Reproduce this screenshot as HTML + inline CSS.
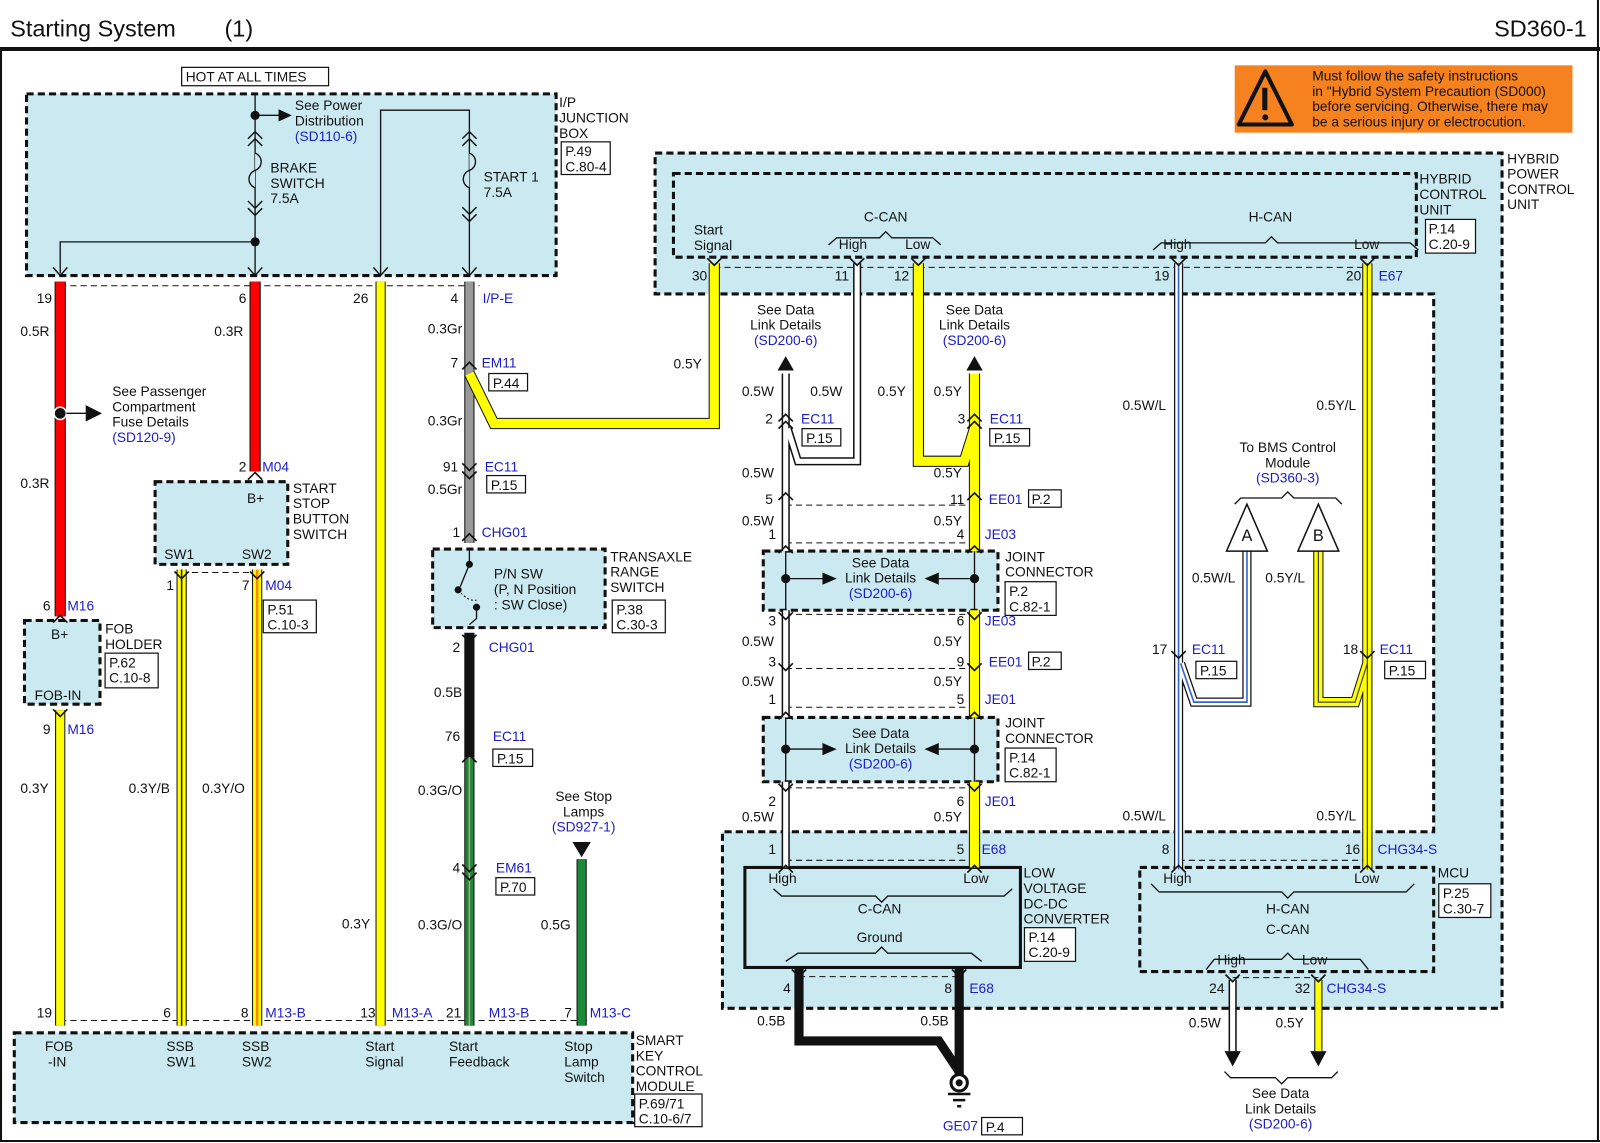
<!DOCTYPE html>
<html><head><meta charset="utf-8"><style>
html,body{margin:0;padding:0;background:#fff}
svg{display:block}
text{font-family:"Liberation Sans",Arial,sans-serif;font-size:13.5px;fill:#111}
.b{fill:#1c1cc8}
.e{text-anchor:end}
.d{fill:none;stroke:#111;stroke-width:3;stroke-dasharray:7 4}
.dl{fill:none;stroke:#111;stroke-width:1;stroke-dasharray:6 4}
.l{fill:none;stroke:#111;stroke-width:1.3}
.bx{fill:#fff;stroke:#111;stroke-width:1.2}
.fl{fill:#cbe9f1}
.ch{fill:none;stroke:#111;stroke-width:1.4}
</style></head><body>
<svg width="1600" height="1143" viewBox="0 0 1568 1120" preserveAspectRatio="none" xmlns="http://www.w3.org/2000/svg">
<rect width="1568" height="1120" fill="#fff"/>
<!-- header -->
<text x="10" y="36" style="font-size:23px">Starting System</text>
<text x="220" y="36" style="font-size:23px">(1)</text>
<text x="1555" y="36" text-anchor="end" style="font-size:23px">SD360-1</text>
<line x1="0" y1="48" x2="1568" y2="48" stroke="#111" stroke-width="4"/>
<line x1="1" y1="48" x2="1" y2="1118" stroke="#111" stroke-width="2"/>
<line x1="1566" y1="0" x2="1566" y2="1118" stroke="#111" stroke-width="2"/>
<line x1="0" y1="1118" x2="1568" y2="1118" stroke="#111" stroke-width="2"/>

<!-- fills -->
<rect x="26" y="92" width="519" height="178" class="fl"/>
<rect x="152" y="472" width="130" height="81" class="fl"/>
<rect x="24" y="608" width="74" height="82" class="fl"/>
<rect x="424" y="538" width="169" height="77" class="fl"/>
<rect x="14" y="1012" width="606" height="88" class="fl"/>
<path d="M642 150H1472V988H708V815H1405V288H642Z" class="fl"/>
<rect x="748" y="540" width="230" height="58" class="fl"/>
<rect x="748" y="703" width="230" height="63" class="fl"/>
<!-- dashed boxes -->
<rect x="26" y="92" width="519" height="178" class="d"/>
<rect x="152" y="472" width="130" height="81" class="d"/>
<rect x="24" y="608" width="74" height="82" class="d"/>
<rect x="424" y="538" width="169" height="77" class="d"/>
<rect x="14" y="1012" width="606" height="88" class="d"/>
<path d="M642 150H1472V988H708V815H1405V288H642Z" class="d"/>
<rect x="660" y="170" width="728" height="82" class="d"/>
<rect x="748" y="540" width="230" height="58" class="d"/>
<rect x="748" y="703" width="230" height="63" class="d"/>
<rect x="1117" y="850" width="288" height="102" class="d"/>
<rect x="730" y="850" width="270" height="98" fill="#cbe9f1" stroke="#111" stroke-width="3"/>

<!-- thin connector dashed lines -->
<line x1="59" y1="280" x2="470" y2="280" class="dl"/>
<line x1="178" y1="561" x2="252" y2="561" class="dl"/>
<line x1="59" y1="1000" x2="575" y2="1000" class="dl"/>
<line x1="700" y1="262" x2="1340" y2="262" class="dl"/>
<line x1="770" y1="495" x2="955" y2="495" class="dl"/>
<line x1="770" y1="532" x2="955" y2="532" class="dl"/>
<line x1="770" y1="602" x2="955" y2="602" class="dl"/>
<line x1="770" y1="655" x2="955" y2="655" class="dl"/>
<line x1="770" y1="693" x2="955" y2="693" class="dl"/>
<line x1="770" y1="772" x2="955" y2="772" class="dl"/>
<line x1="770" y1="843" x2="955" y2="843" class="dl"/>
<line x1="1155" y1="843" x2="1340" y2="843" class="dl"/>
<line x1="783" y1="957" x2="940" y2="957" class="dl"/>
<line x1="1208" y1="958" x2="1292" y2="958" class="dl"/>

<!-- IP junction box internals -->
<path d="M250 92V270M250 237H59V268M373 270V108H460V270" class="l"/>
<circle cx="250" cy="113" r="4.5" fill="#111"/><circle cx="250" cy="237" r="4.5" fill="#111"/>
<path d="M250 113H275" class="l"/><path d="M273 107L286 113L273 119Z" fill="#111"/>
<path d="M250 150c8 3 8 14 0 17c-8 3-8 14 0 17" fill="#cbe9f1" stroke="#111" stroke-width="1.3"/>
<path d="M460 150c8 3 8 14 0 17c-8 3-8 14 0 17" fill="#cbe9f1" stroke="#111" stroke-width="1.3"/>
<g class="ch"><path d="M243 136l7-7 7 7M243 143l7-7 7 7M243 197l7 7 7-7M243 204l7 7 7-7M453 136l7-7 7 7M453 143l7-7 7 7M453 203l7 7 7-7M453 210l7 7 7-7"/>
<path d="M52 262l7 8 7-8M243 262l7 8 7-8M366 262l7 8 7-8M453 262l7 8 7-8"/></g>
<rect x="178" y="66" width="144" height="18" class="bx"/><text x="182" y="80">HOT AT ALL TIMES</text>
<text x="289" y="108">See Power</text><text x="289" y="123">Distribution</text><text x="289" y="138" class="b">(SD110-6)</text>
<text x="265" y="169">BRAKE</text><text x="265" y="184">SWITCH</text><text x="265" y="199">7.5A</text>
<text x="474" y="178">START 1</text><text x="474" y="193">7.5A</text>
<text x="548" y="105">I/P</text><text x="548" y="120">JUNCTION</text><text x="548" y="135">BOX</text>
<rect x="550" y="139" width="48" height="32" class="bx"/><text x="554" y="153">P.49</text><text x="554" y="168">C.80-4</text>

<!-- wires -->
<g stroke-linecap="butt" fill="none">
<path d="M59 276V604M250 276V462" stroke="#111" stroke-width="11"/>
<path d="M59 276V604M250 276V462" stroke="#f00" stroke-width="9"/>
<path d="M59 696V1005M373 276V1005M178 558V1005M252 558V1005M570 842V1005" stroke="#111" stroke-width="10"/>
<path d="M59 696V1005M373 276V1005" stroke="#ff0" stroke-width="8"/>
<path d="M178 558V1005M252 558V1005" stroke="#ff0" stroke-width="8"/>
<path d="M178 558V1005" stroke="#222" stroke-width="1.5"/>
<path d="M252 558V1005" stroke="#f80" stroke-width="2.5"/>
<path d="M460 276V532" stroke="#111" stroke-width="10"/><path d="M460 276V532" stroke="#999" stroke-width="8"/>
<path d="M460 366L484 415H700V258" stroke="#111" stroke-width="11"/><path d="M460 366L484 415H700V258" stroke="#ff0" stroke-width="9"/>
<path d="M460 620V742" stroke="#111" stroke-width="10"/>
<path d="M460 742V1005" stroke="#111" stroke-width="10"/><path d="M460 742V1005" stroke="#1a8a3a" stroke-width="8"/><path d="M460 742V1005" stroke="#c97" stroke-width="1.5"/>
<path d="M570 842V1005" stroke="#1a8a3a" stroke-width="8"/>
<path d="M770 366V540M770 598V703M770 766V850M840 258V452H782L772 420" stroke="#111" stroke-width="8"/>
<path d="M770 366V540M770 598V703M770 766V850M840 258V452H782L772 420" stroke="#fff" stroke-width="5"/>
<path d="M770 540V598M770 703V766M955 540V598M955 703V766" stroke="#111" stroke-width="1.3"/>
<path d="M955 366V540M955 598V703M955 766V850M900 258V452H945L955 420" stroke="#111" stroke-width="11"/>
<path d="M955 366V540M955 598V703M955 766V850M900 258V452H945L955 420" stroke="#ff0" stroke-width="9"/>
<path d="M1155 258V852M1222 540V688H1170L1157 650" stroke="#111" stroke-width="9"/>
<path d="M1155 258V852M1222 540V688H1170L1157 650" stroke="#fff" stroke-width="6.5"/>
<path d="M1155 258V852M1222 540V688H1170L1157 650" stroke="#3366cc" stroke-width="1.6"/>
<path d="M1340 258V852M1292 540V688H1328L1340 650" stroke="#111" stroke-width="10"/>
<path d="M1340 258V852M1292 540V688H1328L1340 650" stroke="#ff0" stroke-width="8"/>
<path d="M1340 258V852M1292 540V688H1328L1340 650" stroke="#445" stroke-width="1.2"/>
<path d="M783 948V1020H920L940 1050M940 948V1055" stroke="#111" stroke-width="9"/>
<path d="M1208 960V1030M1292 960V1030" stroke="#111" stroke-width="8"/>
<path d="M1208 960V1030" stroke="#fff" stroke-width="5"/><path d="M1292 960V1030" stroke="#ff0" stroke-width="6"/>
</g>

<!-- connector chevrons on wires -->
<g stroke="#111" stroke-width="1.6" fill="none">
<path d="M52 610l7-7 7 7M243 470l7-7 7 7M171 560l7 7 7-7M245 560l7 7 7-7M52 695l7 7 7-7"/>
<path d="M453 362l7-7 7 7M453 454l7 7 7-7M453 462l7 7 7-7M453 530l7-7 7 7M453 622l7 7 7-7M453 747l7-7 7 7M453 847l7 7 7-7M453 855l7 7 7-7"/>
<path d="M763 413l7-7 7 7M763 420l7-7 7 7M948 413l7-7 7 7M948 420l7-7 7 7M763 490l7-7 7 7M948 490l7-7 7 7M763 542l7-7 7 7M948 542l7-7 7 7M763 600l7 7 7-7M948 600l7 7 7-7M763 650l7 7 7-7M948 650l7 7 7-7M763 705l7-7 7 7M948 705l7-7 7 7M763 768l7 7 7-7M948 768l7 7 7-7M763 855l7-7 7 7M948 855l7-7 7 7"/>
<path d="M1148 638l7 7 7-7M1333 638l7 7 7-7M1148 855l7-7 7 7M1333 855l7-7 7 7M693 253l7 7 7-7M833 253l7 7 7-7M893 253l7 7 7-7M1148 253l7 7 7-7M1333 253l7 7 7-7"/>
<path d="M776 950l7 7 7-7M933 950l7 7 7-7M1201 955l7 7 7-7M1285 955l7 7 7-7"/>
</g>

<!-- FOB / left labels -->
<circle cx="59" cy="405" r="6" fill="#111" stroke="#fff" stroke-width="1.5"/>
<path d="M65 405H86" class="l" stroke-width="2.5"/><path d="M84 397L100 405L84 413Z" fill="#111"/>
<text x="110" y="388">See Passenger</text><text x="110" y="403">Compartment</text><text x="110" y="418">Fuse Details</text><text x="110" y="433" class="b">(SD120-9)</text>
<text x="36" y="297">19</text><text x="20" y="329">0.5R</text><text x="20" y="478">0.3R</text>
<text x="234" y="297">6</text><text x="210" y="329">0.3R</text><text x="346" y="297">26</text>
<text x="234" y="462">2</text><text x="257" y="462" class="b">M04</text>
<text x="242" y="493">B+</text><text x="161" y="548">SW1</text><text x="237" y="548">SW2</text>
<text x="287" y="483">START</text><text x="287" y="498">STOP</text><text x="287" y="513">BUTTON</text><text x="287" y="528">SWITCH</text>
<text x="163" y="578">1</text><text x="237" y="578">7</text><text x="260" y="578" class="b">M04</text>
<rect x="258" y="588" width="52" height="32" class="bx"/><text x="262" y="602">P.51</text><text x="262" y="617">C.10-3</text>
<text x="42" y="598">6</text><text x="66" y="598" class="b">M16</text>
<text x="50" y="626">B+</text><text x="34" y="686">FOB-IN</text>
<text x="103" y="621">FOB</text><text x="103" y="636">HOLDER</text>
<rect x="103" y="640" width="52" height="34" class="bx"/><text x="107" y="654">P.62</text><text x="107" y="669">C.10-8</text>
<text x="42" y="719">9</text><text x="66" y="719" class="b">M16</text>
<text x="20" y="777">0.3Y</text><text x="126" y="777">0.3Y/B</text><text x="198" y="777">0.3Y/O</text><text x="335" y="910">0.3Y</text>
<text x="36" y="997">19</text><text x="160" y="997">6</text><text x="236" y="997">8</text><text x="260" y="997" class="b">M13-B</text>
<text x="353" y="997">13</text><text x="384" y="997" class="b">M13-A</text>
<text x="452" y="997" class="e">21</text><text x="479" y="997" class="b">M13-B</text>
<text x="553" y="997">7</text><text x="578" y="997" class="b">M13-C</text>
<text x="44" y="1030">FOB</text><text x="47" y="1045">-IN</text>
<text x="163" y="1030">SSB</text><text x="163" y="1045">SW1</text>
<text x="237" y="1030">SSB</text><text x="237" y="1045">SW2</text>
<text x="358" y="1030">Start</text><text x="358" y="1045">Signal</text>
<text x="440" y="1030">Start</text><text x="440" y="1045">Feedback</text>
<text x="553" y="1030">Stop</text><text x="553" y="1045">Lamp</text><text x="553" y="1060">Switch</text>
<text x="623" y="1024">SMART</text><text x="623" y="1039">KEY</text><text x="623" y="1054">CONTROL</text><text x="623" y="1069">MODULE</text>
<rect x="622" y="1072" width="66" height="32" class="bx"/><text x="626" y="1086">P.69/71</text><text x="626" y="1101">C.10-6/7</text>

<!-- center column labels -->
<text x="449" y="297" class="e">4</text><text x="473" y="297" class="b">I/P-E</text>
<text x="453" y="327" class="e">0.3Gr</text><text x="453" y="417" class="e">0.3Gr</text><text x="453" y="484" class="e">0.5Gr</text>
<text x="449" y="360" class="e">7</text><text x="472" y="360" class="b">EM11</text>
<rect x="479" y="366" width="38" height="17" class="bx"/><text x="483" y="380">P.44</text>
<text x="449" y="462" class="e">91</text><text x="475" y="462" class="b">EC11</text>
<rect x="477" y="466" width="38" height="17" class="bx"/><text x="481" y="480">P.15</text>
<text x="451" y="526" class="e">1</text><text x="472" y="526" class="b">CHG01</text>
<text x="660" y="361">0.5Y</text>
<!-- PN switch -->
<path d="M460 538V553M460 553L451 575" class="l"/>
<circle cx="460" cy="553" r="3.5" fill="#111"/><circle cx="449" cy="578" r="3.5" fill="#111"/><circle cx="467" cy="595" r="3.5" fill="#111"/>
<path d="M449 578q10 12 18 10" fill="none" stroke="#111" stroke-dasharray="2 2"/>
<path d="M467 595V606L460 612" class="l"/>
<text x="484" y="567">P/N SW</text><text x="484" y="582">(P, N Position</text><text x="484" y="597">: SW Close)</text>
<text x="598" y="550">TRANSAXLE</text><text x="598" y="565">RANGE</text><text x="598" y="580">SWITCH</text>
<rect x="600" y="588" width="52" height="32" class="bx"/><text x="604" y="602">P.38</text><text x="604" y="617">C.30-3</text>
<text x="451" y="639" class="e">2</text><text x="479" y="639" class="b">CHG01</text>
<text x="453" y="683" class="e">0.5B</text>
<text x="451" y="726" class="e">76</text><text x="483" y="726" class="b">EC11</text>
<rect x="483" y="734" width="39" height="17" class="bx"/><text x="487" y="748">P.15</text>
<text x="453" y="779" class="e">0.3G/O</text><text x="453" y="911" class="e">0.3G/O</text>
<text x="451" y="855" class="e">4</text><text x="486" y="855" class="b">EM61</text>
<rect x="486" y="860" width="38" height="17" class="bx"/><text x="490" y="874">P.70</text>
<text x="572" y="785" text-anchor="middle">See Stop</text><text x="572" y="800" text-anchor="middle">Lamps</text><text x="572" y="815" text-anchor="middle" class="b">(SD927-1)</text>
<path d="M561 825H579L570 840Z" fill="#111"/>
<text x="530" y="911">0.5G</text>

<!-- warning -->
<rect x="1210" y="64" width="331" height="66" fill="#f5821f"/>
<path d="M1240 70L1214 122H1266Z" fill="none" stroke="#111" stroke-width="4" stroke-linejoin="round"/>
<rect x="1237" y="86" width="5" height="22" fill="#111"/><circle cx="1240" cy="115" r="3" fill="#111"/>
<text x="1286" y="79">Must follow the safety instructions</text>
<text x="1286" y="94">in "Hybrid System Precaution (SD000)</text>
<text x="1286" y="109">before servicing. Otherwise, there may</text>
<text x="1286" y="124">be a serious injury or electrocution.</text>

<!-- HPCU labels -->
<text x="1477" y="160">HYBRID</text><text x="1477" y="175">POWER</text><text x="1477" y="190">CONTROL</text><text x="1477" y="205">UNIT</text>
<text x="1391" y="180">HYBRID</text><text x="1391" y="195">CONTROL</text><text x="1391" y="210">UNIT</text>
<rect x="1397" y="215" width="49" height="33" class="bx"/><text x="1400" y="229">P.14</text><text x="1400" y="244">C.20-9</text>
<text x="680" y="230">Start</text><text x="680" y="245">Signal</text>
<text x="868" y="217" text-anchor="middle">C-CAN</text>
<path d="M812 240l8-7H862l6-6 6 6H914l8 7" class="l"/>
<text x="822" y="244">High</text><text x="887" y="244">Low</text>
<text x="1245" y="217" text-anchor="middle">H-CAN</text>
<path d="M1130 245l8-7H1240l6-6 6 6H1382l8 7" class="l"/>
<text x="1140" y="244">High</text><text x="1327" y="244">Low</text>
<text x="678" y="275">30</text><text x="818" y="275">11</text><text x="876" y="275">12</text>
<text x="1131" y="275">19</text><text x="1319" y="275">20</text><text x="1351" y="275" class="b">E67</text>

<!-- C-CAN column labels -->
<text x="770" y="308" text-anchor="middle">See Data</text><text x="770" y="323" text-anchor="middle">Link Details</text><text x="770" y="338" text-anchor="middle" class="b">(SD200-6)</text>
<path d="M762 363H778L770 349Z" fill="#111"/>
<text x="955" y="308" text-anchor="middle">See Data</text><text x="955" y="323" text-anchor="middle">Link Details</text><text x="955" y="338" text-anchor="middle" class="b">(SD200-6)</text>
<path d="M947 363H963L955 349Z" fill="#111"/>
<text x="727" y="388">0.5W</text><text x="794" y="388">0.5W</text><text x="860" y="388">0.5Y</text><text x="915" y="388">0.5Y</text>
<text x="750" y="415">2</text><text x="785" y="415" class="b">EC11</text>
<rect x="786" y="420" width="38" height="17" class="bx"/><text x="790" y="434">P.15</text>
<text x="946" y="415" class="e">3</text><text x="970" y="415" class="b">EC11</text>
<rect x="970" y="420" width="39" height="17" class="bx"/><text x="974" y="434">P.15</text>
<text x="727" y="468">0.5W</text><text x="915" y="468">0.5Y</text>
<text x="750" y="494">5</text><text x="945" y="494" class="e">11</text><text x="969" y="494" class="b">EE01</text>
<rect x="1008" y="480" width="32" height="17" class="bx"/><text x="1011" y="494">P.2</text>
<text x="727" y="515">0.5W</text><text x="915" y="515">0.5Y</text>
<text x="753" y="528">1</text><text x="945" y="528" class="e">4</text><text x="965" y="528" class="b">JE03</text>
<circle cx="770" cy="567" r="4.5" fill="#111"/><circle cx="955" cy="567" r="4.5" fill="#111"/>
<path d="M770 567H808M955 567H918" class="l"/><path d="M806 561L820 567L806 573ZM920 561L906 567L920 573Z" fill="#111"/>
<text x="863" y="556" text-anchor="middle">See Data</text><text x="863" y="571" text-anchor="middle">Link Details</text><text x="863" y="586" text-anchor="middle" class="b">(SD200-6)</text>
<text x="985" y="550">JOINT</text><text x="985" y="565">CONNECTOR</text>
<rect x="985" y="570" width="50" height="33" class="bx"/><text x="989" y="584">P.2</text><text x="989" y="599">C.82-1</text>
<text x="753" y="613">3</text><text x="945" y="613" class="e">6</text><text x="965" y="613" class="b">JE03</text>
<text x="727" y="633">0.5W</text><text x="915" y="633">0.5Y</text>
<text x="753" y="653">3</text><text x="945" y="653" class="e">9</text><text x="969" y="653" class="b">EE01</text>
<rect x="1008" y="639" width="32" height="17" class="bx"/><text x="1011" y="653">P.2</text>
<text x="727" y="672">0.5W</text><text x="915" y="672">0.5Y</text>
<text x="753" y="690">1</text><text x="945" y="690" class="e">5</text><text x="965" y="690" class="b">JE01</text>
<circle cx="770" cy="734" r="4.5" fill="#111"/><circle cx="955" cy="734" r="4.5" fill="#111"/>
<path d="M770 734H808M955 734H918" class="l"/><path d="M806 728L820 734L806 740ZM920 728L906 734L920 740Z" fill="#111"/>
<text x="863" y="723" text-anchor="middle">See Data</text><text x="863" y="738" text-anchor="middle">Link Details</text><text x="863" y="753" text-anchor="middle" class="b">(SD200-6)</text>
<text x="985" y="713">JOINT</text><text x="985" y="728">CONNECTOR</text>
<rect x="985" y="733" width="50" height="33" class="bx"/><text x="989" y="747">P.14</text><text x="989" y="762">C.82-1</text>
<text x="753" y="790">2</text><text x="945" y="790" class="e">6</text><text x="965" y="790" class="b">JE01</text>
<text x="727" y="805">0.5W</text><text x="915" y="805">0.5Y</text>
<text x="753" y="837">1</text><text x="945" y="837" class="e">5</text><text x="962" y="837" class="b">E68</text>

<!-- LDC -->
<text x="753" y="865">High</text><text x="944" y="865">Low</text>
<path d="M758 871l8 7H858l6 6 6-6H984l8-7" class="l"/>
<text x="862" y="895" text-anchor="middle">C-CAN</text><text x="862" y="923" text-anchor="middle">Ground</text>
<path d="M770 942l12-8H858l6-6 6 6H952l10 8" class="l"/>
<text x="1003" y="860">LOW</text><text x="1003" y="875">VOLTAGE</text><text x="1003" y="890">DC-DC</text><text x="1003" y="905">CONVERTER</text>
<rect x="1004" y="909" width="50" height="33" class="bx"/><text x="1008" y="923">P.14</text><text x="1008" y="938">C.20-9</text>
<text x="775" y="973" class="e">4</text><text x="933" y="973" class="e">8</text><text x="950" y="973" class="b">E68</text>
<text x="742" y="1005">0.5B</text><text x="902" y="1005">0.5B</text>
<circle cx="940" cy="1061" r="8" fill="#fff" stroke="#111" stroke-width="3"/><circle cx="940" cy="1061" r="3.5" fill="#111"/>
<path d="M929 1072H951M934 1078H946M938 1084H942" stroke="#111" stroke-width="2.5"/>
<text x="924" y="1108" class="b">GE07</text>
<rect x="962" y="1095" width="40" height="17" class="bx"/><text x="966" y="1109">P.4</text>

<!-- H-CAN labels -->
<text x="1100" y="402">0.5W/L</text><text x="1290" y="402">0.5Y/L</text>
<text x="1262" y="443" text-anchor="middle">To BMS Control</text><text x="1262" y="458" text-anchor="middle">Module</text><text x="1262" y="473" text-anchor="middle" class="b">(SD360-3)</text>
<path d="M1210 494l6-6H1256l6-6 6 6H1309l6 6" class="l"/>
<path d="M1222 494L1202 540H1242Z" fill="#fff" stroke="#111" stroke-width="1.5"/><text x="1222" y="530" text-anchor="middle" style="font-size:16px">A</text>
<path d="M1292 494L1272 540H1312Z" fill="#fff" stroke="#111" stroke-width="1.5"/><text x="1292" y="530" text-anchor="middle" style="font-size:16px">B</text>
<text x="1168" y="571">0.5W/L</text><text x="1240" y="571">0.5Y/L</text>
<text x="1144" y="641" class="e">17</text><text x="1168" y="641" class="b">EC11</text>
<rect x="1172" y="648" width="40" height="17" class="bx"/><text x="1176" y="662">P.15</text>
<text x="1331" y="641" class="e">18</text><text x="1352" y="641" class="b">EC11</text>
<rect x="1357" y="648" width="40" height="17" class="bx"/><text x="1361" y="662">P.15</text>
<text x="1100" y="804">0.5W/L</text><text x="1290" y="804">0.5Y/L</text>
<text x="1146" y="837" class="e">8</text><text x="1333" y="837" class="e">16</text><text x="1350" y="837" class="b">CHG34-S</text>
<!-- MCU -->
<text x="1140" y="865">High</text><text x="1327" y="865">Low</text>
<path d="M1128 866l8 8H1256l6 6 6-6H1378l8-8" class="l"/>
<text x="1262" y="895" text-anchor="middle">H-CAN</text><text x="1262" y="915" text-anchor="middle">C-CAN</text>
<path d="M1182 950l8-10H1256l6-6 6 6H1333l8 10" class="l"/>
<text x="1193" y="945">High</text><text x="1276" y="945">Low</text>
<text x="1409" y="860">MCU</text>
<rect x="1410" y="866" width="51" height="33" class="bx"/><text x="1414" y="880">P.25</text><text x="1414" y="895">C.30-7</text>
<text x="1200" y="973" class="e">24</text><text x="1284" y="973" class="e">32</text><text x="1300" y="973" class="b">CHG34-S</text>
<text x="1165" y="1007">0.5W</text><text x="1250" y="1007">0.5Y</text>
<path d="M1200 1030H1216L1208 1045ZM1284 1030H1300L1292 1045Z" fill="#111"/>
<path d="M1200 1050l6 6H1250l6 6 6-6H1305l6-6" class="l"/>
<text x="1255" y="1076" text-anchor="middle">See Data</text><text x="1255" y="1091" text-anchor="middle">Link Details</text><text x="1255" y="1106" text-anchor="middle" class="b">(SD200-6)</text>
</svg>
</body></html>
